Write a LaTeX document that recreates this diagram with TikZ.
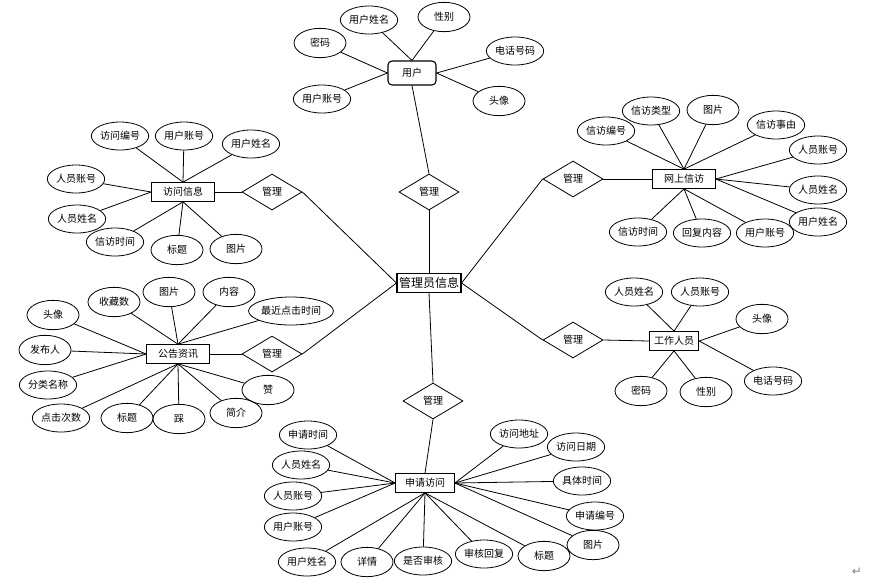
\documentclass[tikz,border=0pt]{standalone}
\usepackage{fontspec}
\setmainfont{Noto Sans CJK SC}
\newfontfamily\symfont{DejaVu Sans}
\usetikzlibrary{positioning, shapes.geometric}

\tikzset{
    attr/.style={ellipse, draw, line width=0.6pt, minimum width=43pt, minimum height=21pt, inner sep=0pt, font=\fontsize{7.5}{8}\selectfont},
    sattr/.style={attr, minimum width=39pt, minimum height=22pt},
    entity/.style={rectangle, draw, line width=0.8pt, minimum width=47pt, minimum height=14pt, inner sep=0pt, font=\fontsize{7.5}{8}\selectfont},
    rel/.style={diamond, draw, line width=0.6pt, minimum width=45pt, minimum height=27pt, inner sep=0pt, font=\fontsize{7.5}{8}\selectfont},
    link/.style={line width=0.6pt}
}

\begin{document}
\begin{tikzpicture}[x=0.75pt, y=-0.75pt]
    \useasboundingbox (0,0) rectangle (887,579);

    % Central entity and the relations round it
    \node[entity, minimum width=48pt, font=\fontsize{9}{10}\selectfont] (gly) at (429,283) {管理员信息};
    \node[rel] (glTop) at (429,192) {管理};
    \node[rel] (glRight) at (573,179) {管理};
    \node[rel] (glLeft) at (272,192) {管理};
    \node[rel] (glNews) at (272,354) {管理};
    \node[rel] (glStaff) at (573,340) {管理};
    \node[rel] (glBottom) at (433,401) {管理};

    % User
    \node[entity, rounded corners=3pt, minimum width=36pt, minimum height=18pt] (yh) at (412,73) {用户};
    \node[attr] (yhXm) at (369,20) {用户姓名};
    \node[sattr] (yhXb) at (444,17) {性别};
    \node[sattr] (yhMm) at (320,43) {密码};
    \node[attr] (yhDh) at (515,51) {电话号码};
    \node[attr] (yhZh) at (322,99) {用户账号};
    \node[sattr] (yhTx) at (499,101) {头像};

    % Online petition
    \node[entity] (xf) at (684,179) {网上信访};
    \node[attr] (xfBh) at (606,131) {信访编号};
    \node[attr] (xfLx) at (651,111) {信访类型};
    \node[sattr] (xfTp) at (713,110) {图片};
    \node[attr] (xfSy) at (776,125) {信访事由};
    \node[attr] (xfRyzh) at (818,150) {人员账号};
    \node[attr] (xfRyxm) at (818,190) {人员姓名};
    \node[attr] (xfYhxm) at (818,222) {用户姓名};
    \node[attr] (xfYhzh) at (765,233) {用户账号};
    \node[attr] (xfHf) at (702,233) {回复内容};
    \node[attr] (xfSj) at (638,232) {信访时间};

    % Visit info
    \node[entity] (fw) at (183,192) {访问信息};
    \node[attr] (fwBh) at (120,136) {访问编号};
    \node[attr] (fwYhzh) at (184,136) {用户账号};
    \node[attr] (fwYhxm) at (251,144) {用户姓名};
    \node[attr] (fwRyzh) at (76,179) {人员账号};
    \node[attr] (fwRyxm) at (77,219) {人员姓名};
    \node[attr] (fwSj) at (115,242) {信访时间};
    \node[sattr] (fwBt) at (177,250) {标题};
    \node[sattr] (fwTp) at (236,249) {图片};

    % News
    \node[entity] (gg) at (178,354) {公告资讯};
    \node[sattr] (ggTx) at (53,315) {头像};
    \node[sattr] (ggSc) at (114,302) {收藏数};
    \node[sattr] (ggTp) at (169,292) {图片};
    \node[sattr] (ggNr) at (229,292) {内容};
    \node[attr, minimum width=58pt] (ggZj) at (291,311) {最近点击时间};
    \node[sattr] (ggFb) at (45,350) {发布人};
    \node[attr] (ggFl) at (48,385) {分类名称};
    \node[attr] (ggDj) at (61,418) {点击次数};
    \node[sattr] (ggBt) at (127,418) {标题};
    \node[sattr] (ggCai) at (179,419) {踩};
    \node[sattr] (ggJj) at (236,413) {简介};
    \node[sattr] (ggZan) at (268,390) {赞};

    % Staff
    \node[entity, minimum width=37pt] (gz) at (674,341) {工作人员};
    \node[attr] (gzXm) at (634,292) {人员姓名};
    \node[attr] (gzZh) at (700,292) {人员账号};
    \node[sattr] (gzTx) at (762,319) {头像};
    \node[attr] (gzDh) at (773,381) {电话号码};
    \node[sattr] (gzMm) at (641,391) {密码};
    \node[sattr] (gzXb) at (706,392) {性别};

    % Visit request
    \node[entity, minimum width=44pt] (sq) at (425,483) {申请访问};
    \node[attr] (sqSj) at (308,435) {申请时间};
    \node[attr] (sqRyxm) at (301,465) {人员姓名};
    \node[attr] (sqRyzh) at (293,496) {人员账号};
    \node[attr] (sqYhzh) at (293,527) {用户账号};
    \node[attr] (sqYhxm) at (307,562) {用户姓名};
    \node[sattr] (sqXq) at (367,562) {详情};
    \node[attr] (sqSh) at (423,561) {是否审核};
    \node[attr] (sqHf) at (484,554) {审核回复};
    \node[sattr] (sqBt) at (544,556) {标题};
    \node[sattr] (sqTp) at (593,545) {图片};
    \node[attr] (sqBh) at (595,516) {申请编号};
    \node[attr] (sqJt) at (582,481) {具体时间};
    \node[attr] (sqRq) at (576,447) {访问日期};
    \node[attr] (sqDz) at (519,434) {访问地址};

    % Relations to the central entity
    \draw[link] (gly.north) -- (glTop.south);
    \draw[link] (glTop.north) -- (yh.south);
    \draw[link] (gly.east) -- (glRight.west);
    \draw[link] (glRight.east) -- (xf.west);
    \draw[link] (gly.west) -- (glLeft.east);
    \draw[link] (glLeft.west) -- (fw.east);
    \draw[link] (gly.west) -- (glNews.east);
    \draw[link] (glNews.west) -- (gg.east);
    \draw[link] (gly.east) -- (glStaff.west);
    \draw[link] (glStaff.east) -- (gz.west);
    \draw[link] (gly.south) -- (glBottom.north);
    \draw[link] (glBottom.south) -- (sq.north);

    % Attributes of user
    \draw[link] (yhXm) -- (yh.north);
    \draw[link] (yhXb) -- (yh.north);
    \draw[link] (yhMm) -- (yh.west);
    \draw[link] (yhZh) -- (yh.west);
    \draw[link] (yhDh) -- (yh.east);
    \draw[link] (yhTx) -- (yh.east);

    % Attributes of online petition
    \draw[link] (xfBh) -- (xf.north);
    \draw[link] (xfLx) -- (xf.north);
    \draw[link] (xfTp) -- (xf.north);
    \draw[link] (xfSy) -- (xf.north);
    \draw[link] (xfRyzh) -- (xf.east);
    \draw[link] (xfRyxm) -- (xf.east);
    \draw[link] (xfYhxm) -- (xf.east);
    \draw[link] (xfYhzh) -- (xf.south);
    \draw[link] (xfHf) -- (xf.south);
    \draw[link] (xfSj) -- (xf.south);

    % Attributes of visit info
    \draw[link] (fwBh) -- (fw.north);
    \draw[link] (fwYhzh) -- (fw.north);
    \draw[link] (fwYhxm) -- (fw.north);
    \draw[link] (fwRyzh) -- (fw.west);
    \draw[link] (fwRyxm) -- (fw.west);
    \draw[link] (fwSj) -- (fw.south);
    \draw[link] (fwBt) -- (fw.south);
    \draw[link] (fwTp) -- (fw.south);

    % Attributes of news
    \draw[link] (ggSc) -- (gg.north);
    \draw[link] (ggTp) -- (gg.north);
    \draw[link] (ggNr) -- (gg.north);
    \draw[link] (ggZj) -- (gg.north);
    \draw[link] (ggTx) -- (gg.west);
    \draw[link] (ggFb) -- (gg.west);
    \draw[link] (ggFl) -- (gg.west);
    \draw[link] (ggDj) -- (gg.south);
    \draw[link] (ggBt) -- (gg.south);
    \draw[link] (ggCai) -- (gg.south);
    \draw[link] (ggJj) -- (gg.south);
    \draw[link] (ggZan) -- (gg.south);

    % Attributes of staff
    \draw[link] (gzXm) -- (gz.north);
    \draw[link] (gzZh) -- (gz.north);
    \draw[link] (gzTx) -- (gz.east);
    \draw[link] (gzDh) -- (gz.east);
    \draw[link] (gzMm) -- (gz.south);
    \draw[link] (gzXb) -- (gz.south);

    % Attributes of visit request
    \draw[link] (sqSj) -- (sq.west);
    \draw[link] (sqRyxm) -- (sq.west);
    \draw[link] (sqRyzh) -- (sq.west);
    \draw[link] (sqYhzh) -- (sq.west);
    \draw[link] (sqYhxm) -- (sq.south);
    \draw[link] (sqXq) -- (sq.south);
    \draw[link] (sqSh) -- (sq.south);
    \draw[link] (sqHf) -- (sq.south);
    \draw[link] (sqBt) -- (sq.south);
    \draw[link] (sqTp) -- (sq.east);
    \draw[link] (sqBh) -- (sq.east);
    \draw[link] (sqJt) -- (sq.east);
    \draw[link] (sqRq) -- (sq.east);
    \draw[link] (sqDz) -- (sq.east);

    % Paragraph mark
    \node[text=gray, font=\symfont\fontsize{9}{10}\selectfont] (ret) at (857,572) {↵};
\end{tikzpicture}
\end{document}
